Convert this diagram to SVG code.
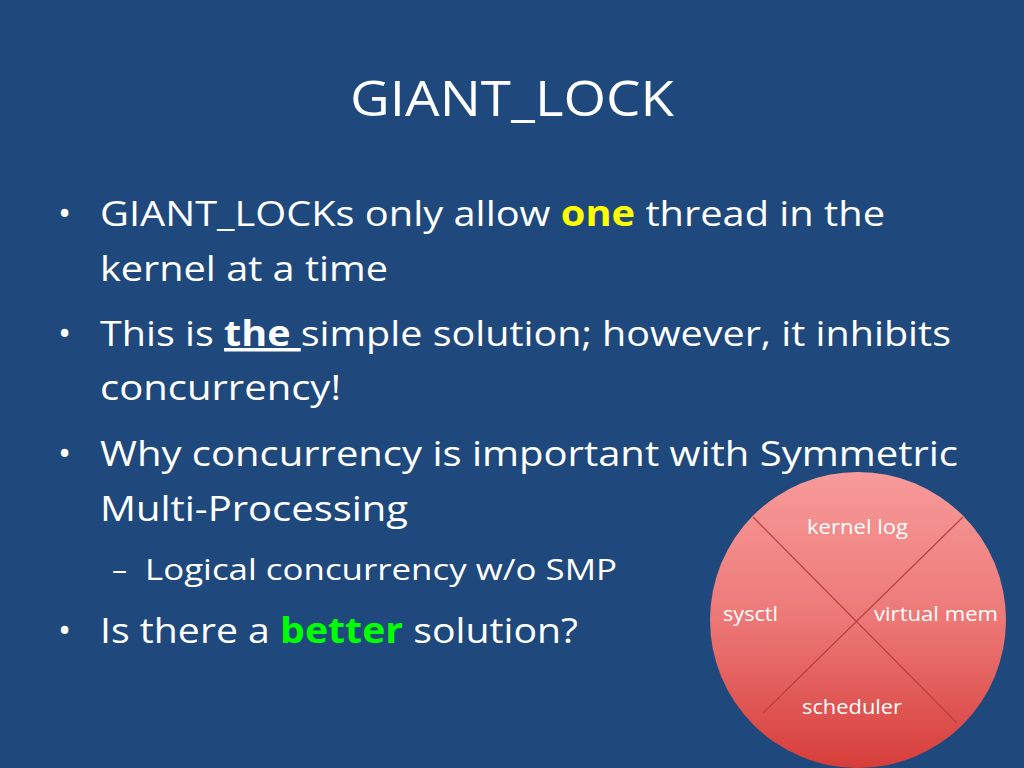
<svg xmlns="http://www.w3.org/2000/svg" width="1024" height="768" viewBox="0 0 1024 768">
<defs>
<linearGradient id="g" x1="0" y1="0" x2="0" y2="1">
<stop offset="0" stop-color="#f79b9a"/><stop offset="0.5" stop-color="#ec7877"/><stop offset="1" stop-color="#d63d3a"/>
</linearGradient>
<style>
text{font-family:"Open Sans",Lato,sans-serif;fill:#ffffff}
.b{font-size:35px}
.c{font-size:20px}
</style>
</defs>
<rect width="1024" height="768" fill="#1f497d"/>
<text x="350" y="116" font-size="50" textLength="324" lengthAdjust="spacingAndGlyphs">GIANT_LOCK</text>
<g class="b">
<text x="58" y="226">•</text>
<text x="100" y="226" textLength="785" lengthAdjust="spacingAndGlyphs">GIANT_LOCKs only allow <tspan fill="#ffff00" font-weight="bold">one</tspan> thread in the</text>
<text x="100" y="281" textLength="288" lengthAdjust="spacingAndGlyphs">kernel at a time</text>
<text x="58" y="346">•</text>
<text x="100" y="346" textLength="851" lengthAdjust="spacingAndGlyphs">This is <tspan font-weight="bold" text-decoration="underline">the </tspan>simple solution; however, it inhibits</text>
<text x="100" y="400" textLength="241" lengthAdjust="spacingAndGlyphs">concurrency!</text>
<text x="58" y="466">•</text>
<text x="100" y="466" textLength="858" lengthAdjust="spacingAndGlyphs">Why concurrency is important with Symmetric</text>
<text x="100" y="521" textLength="308" lengthAdjust="spacingAndGlyphs">Multi-Processing</text>
<text x="58" y="643">•</text>
<text x="100" y="643" textLength="478" lengthAdjust="spacingAndGlyphs">Is there a <tspan fill="#00ff00" font-weight="bold">better</tspan> solution?</text>
</g>
<text x="112" y="580" font-size="30">–</text>
<text x="145" y="580" font-size="30" textLength="472" lengthAdjust="spacingAndGlyphs">Logical concurrency w/o SMP</text>
<g id="circle">
<circle cx="858" cy="620" r="148" fill="url(#g)"/>
<line x1="753" y1="517" x2="957" y2="723" stroke="#b8403e" stroke-width="1.2"/>
<line x1="963" y1="517" x2="763" y2="713" stroke="#b8403e" stroke-width="1.2"/>
<text class="c" x="807" y="534" textLength="101" lengthAdjust="spacingAndGlyphs">kernel log</text>
<text class="c" x="723" y="621" textLength="55" lengthAdjust="spacingAndGlyphs">sysctl</text>
<text class="c" x="874" y="621" textLength="124" lengthAdjust="spacingAndGlyphs">virtual mem</text>
<text class="c" x="802" y="714" textLength="100" lengthAdjust="spacingAndGlyphs">scheduler</text>
</g>
</svg>
